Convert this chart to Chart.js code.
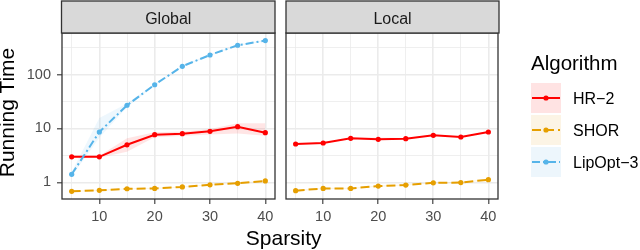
<!DOCTYPE html>
<html><head><meta charset="utf-8">
<script src="https://cdn.jsdelivr.net/npm/chart.js@4/dist/chart.umd.min.js"></script>
<style>
html,body{margin:0;padding:0;background:#fff;}
#wrap{position:relative;width:640px;height:250px;overflow:hidden;background:#fff;}
canvas{position:absolute;top:0;}
#c1{left:0;} #c2{left:280px;}
#ov{position:absolute;left:0;top:0;}
</style></head><body>
<div id="wrap">
<canvas id="c1" width="280" height="250"></canvas>
<canvas id="c2" width="222" height="250"></canvas>
<svg id="ov" width="640" height="250" xmlns="http://www.w3.org/2000/svg"></svg>
</div>
<script>
// ---- data ----
const facets = ['Global', 'Local'];
const algorithms = ['HR\u22122', 'SHOR', 'LipOpt\u22123'];
const sparsity = [5, 10, 15, 20, 25, 30, 35, 40];
const xTicks = [5, 10, 15, 20, 25, 30, 35, 40];
const xTickLabels = [10, 20, 30, 40];
const yTicks = [1, 3.1623, 10, 31.623, 100, 316.23];
const yTickLabels = [1, 10, 100];

const globalHR2   = [2.97, 2.97, 4.98, 7.66, 8.0, 8.86, 10.8, 8.36];
const globalHR2Lo = [2.85, 2.85, 3.7, 6.9, 7.25, 7.7, 8.1, 7.3];
const globalHR2Hi = [3.1, 3.1, 6.6, 8.5, 8.8, 9.8, 12.5, 12.5];
const globalSHOR   = [0.68, 0.71, 0.76, 0.77, 0.82, 0.90, 0.96, 1.06];
const globalSHORLo = [0.66, 0.69, 0.74, 0.75, 0.80, 0.88, 0.94, 1.03];
const globalSHORHi = [0.70, 0.73, 0.78, 0.79, 0.84, 0.92, 0.98, 1.09];
const globalLip   = [1.41, 8.6, 27, 65, 143, 232, 352, 429];
const globalLipLo = [1.3, 6.7, 25, 62, 138, 225, 342, 418];
const globalLipHi = [1.55, 15.7, 29, 68, 148, 240, 362, 440];

const localHR2   = [5.15, 5.38, 6.57, 6.3, 6.46, 7.48, 6.95, 8.61];
const localHR2Lo = [5.0, 5.25, 6.4, 6.0, 6.3, 7.3, 6.8, 8.4];
const localHR2Hi = [5.3, 5.5, 6.75, 6.8, 6.65, 7.65, 7.1, 8.8];
const localSHOR   = [0.70, 0.77, 0.77, 0.85, 0.89, 0.98, 0.99, 1.12];
const localSHORLo = [0.68, 0.75, 0.75, 0.83, 0.87, 0.96, 0.97, 1.09];
const localSHORHi = [0.72, 0.79, 0.79, 0.87, 0.91, 1.00, 1.01, 1.15];

// ---- styles ----
const FONT = "'Liberation Sans', Arial, Helvetica, sans-serif";
const colors = ['#ff0000', '#e69f00', '#56b4e9'];
const fills = ['rgba(255,0,0,0.1)', 'rgba(230,159,0,0.1)', 'rgba(86,180,233,0.1)'];
const dashes = [[], [9, 4], [8, 3, 2, 3]];

const pts = arr => sparsity.map((s, i) => ({x: s, y: arr[i]}));

function seriesSets(k, mid) {
  return [
    {label: algorithms[k], data: pts(mid), borderColor: colors[k], backgroundColor: colors[k],
     borderWidth: 2, borderDash: dashes[k], pointRadius: 2.6, pointBorderWidth: 0,
     pointBackgroundColor: colors[k], tension: 0, fill: false, order: 2 - k},
  ];
}
function ribbonSets(k, lo, hi) {
  return [
    {label: algorithms[k] + ' lo', data: pts(lo), borderWidth: 0, pointRadius: 0, fill: false, order: 10 + k, borderColor: 'rgba(0,0,0,0)'},
    {label: algorithms[k] + ' hi', data: pts(hi), borderWidth: 0, pointRadius: 0, fill: '-1', backgroundColor: fills[k], order: 10 + k, borderColor: 'rgba(0,0,0,0)'}
  ];
}

const isMinorY = v => Math.abs(Math.log10(v) - Math.round(Math.log10(v))) > 0.1;
const isMinorX = v => !xTickLabels.includes(v);

const panelBorder = {
  id: 'panelBorder',
  afterDraw(chart) {
    const {ctx, chartArea: a} = chart;
    ctx.save();
    ctx.strokeStyle = '#333333';
    ctx.lineWidth = 1.3;
    ctx.strokeRect(a.left, a.top, a.right - a.left, a.bottom - a.top);
    ctx.restore();
  }
};

function makeOptions(showY, padding) {
  return {
    responsive: false,
    animation: false,
    layout: {padding: padding},
    plugins: {legend: {display: false}, tooltip: {enabled: false}},
    scales: {
      x: {
        type: 'linear', min: 3.25, max: 41.75, bounds: 'data',
        afterBuildTicks: s => { s.ticks = xTicks.map(v => ({value: v})); },
        afterFit: s => { s.height = 51; },
        ticks: {
          autoSkip: false, maxRotation: 0, padding: 4,
          color: '#4d4d4d', font: {family: FONT, size: 14.5},
          callback: v => xTickLabels.includes(v) ? String(v) : ''
        },
        grid: {
          color: '#ebebeb',
          lineWidth: c => (c.tick && isMinorX(c.tick.value)) ? 0.8 : 1.6,
          tickColor: c => (c.tick && isMinorX(c.tick.value)) ? 'rgba(0,0,0,0)' : '#333333',
          tickLength: 5, tickWidth: 1.1
        },
        border: {display: false}
      },
      y: {
        type: 'logarithmic', min: 0.49, max: 594, bounds: 'data',
        afterBuildTicks: s => { s.ticks = yTicks.map(v => ({value: v})); },
        afterFit: s => { s.width = showY ? 62 : 0; },
        ticks: {
          display: showY, autoSkip: false, padding: 6,
          color: '#4d4d4d', font: {family: FONT, size: 14.5},
          callback: v => yTickLabels.includes(v) ? String(v) : ''
        },
        grid: {
          color: '#ebebeb',
          drawTicks: showY,
          lineWidth: c => (c.tick && isMinorY(c.tick.value)) ? 0.8 : 1.6,
          tickColor: c => (c.tick && isMinorY(c.tick.value)) ? 'rgba(0,0,0,0)' : '#333333',
          tickLength: 5, tickWidth: 1.1
        },
        border: {display: false}
      }
    }
  };
}

new Chart(document.getElementById('c1'), {
  type: 'line',
  data: {datasets: [
    ...seriesSets(0, globalHR2), ...seriesSets(1, globalSHOR), ...seriesSets(2, globalLip),
    ...ribbonSets(0, globalHR2Lo, globalHR2Hi), ...ribbonSets(1, globalSHORLo, globalSHORHi),
    ...ribbonSets(2, globalLipLo, globalLipHi)
  ]},
  options: makeOptions(true, {top: 33, right: 5, left: 0, bottom: 0}),
  plugins: [panelBorder]
});

new Chart(document.getElementById('c2'), {
  type: 'line',
  data: {datasets: [
    ...seriesSets(0, localHR2), ...seriesSets(1, localSHOR),
    ...ribbonSets(0, localHR2Lo, localHR2Hi), ...ribbonSets(1, localSHORLo, localSHORHi)
  ]},
  options: makeOptions(false, {top: 33, right: 3, left: 6, bottom: 0}),
  plugins: [panelBorder]
});

// ---- overlay: strips, axis titles, legend ----
const NS = 'http://www.w3.org/2000/svg';
const ov = document.getElementById('ov');
function el(tag, attrs, text) {
  const e = document.createElementNS(NS, tag);
  for (const k in attrs) e.setAttribute(k, attrs[k]);
  if (text !== undefined) e.textContent = text;
  ov.appendChild(e);
  return e;
}
const strips = [[61.5, 275], [286, 499]];
facets.forEach((f, i) => {
  const [x0, x1] = strips[i];
  el('rect', {x: x0, y: 1, width: x1 - x0, height: 32, fill: '#d9d9d9', stroke: '#333333', 'stroke-width': 1.3});
  el('text', {x: (x0 + x1) / 2, y: 24, 'text-anchor': 'middle', 'font-family': FONT, 'font-size': 16, fill: '#1a1a1a'}, f);
});
el('text', {x: 283.7, y: 245, 'text-anchor': 'middle', 'font-family': FONT, 'font-size': 21, fill: '#000'}, 'Sparsity');
el('text', {transform: 'translate(14,112.5) rotate(-90)', 'text-anchor': 'middle', 'font-family': FONT, 'font-size': 21, fill: '#000'}, 'Running Time');
el('text', {x: 531, y: 69.7, 'font-family': FONT, 'font-size': 20.5, fill: '#000'}, 'Algorithm');
const keyFills = ['#ffe3e3', '#fcf4e5', '#edf6fc'];
algorithms.forEach((a, k) => {
  const top = 83 + k * 32;
  const cy = top + 15;
  el('rect', {x: 531, y: top, width: 30, height: 30, fill: keyFills[k]});
  const ln = el('line', {x1: 532, y1: cy, x2: 560, y2: cy, stroke: colors[k], 'stroke-width': 2});
  if (dashes[k].length) ln.setAttribute('stroke-dasharray', dashes[k].join(' '));
  el('circle', {cx: 546, cy: cy, r: 2.6, fill: colors[k]});
  el('text', {x: 573, y: cy + 5.7, 'font-family': FONT, 'font-size': 16, fill: '#000'}, a);
});
</script>
</body></html>
